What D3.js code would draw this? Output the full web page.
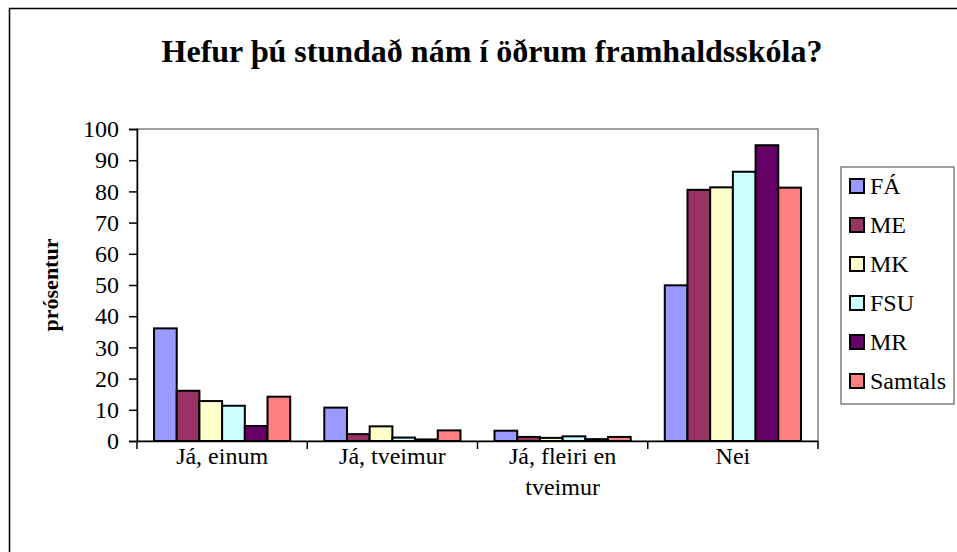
<!DOCTYPE html>
<html><head><meta charset="utf-8">
<script src="https://cdn.jsdelivr.net/npm/d3@7/dist/d3.min.js"></script>
<style>body{margin:0;background:#fff}svg{display:block}svg text{font-family:"Liberation Serif","Times New Roman",serif !important}</style>
</head><body><svg id="c" width="957" height="552"></svg>
<script>
const categories = [["Já, einum"], ["Já, tveimur"], ["Já, fleiri en", "tveimur"], ["Nei"]];
const seriesNames = ["FÁ", "ME", "MK", "FSU", "MR", "Samtals"];
const seriesColors = ["#9999FF", "#993366", "#FFFFCC", "#CCFFFF", "#660066", "#FF8080"];
const FA = [36.1, 10.7, 3.3, 49.9];
const ME = [16.1, 2.2, 1.3, 80.5];
const MK = [12.8, 4.7, 1.0, 81.3];
const FSU = [11.3, 1.1, 1.5, 86.3];
const MR = [4.8, 0.5, 0.6, 94.8];
const Samtals = [14.2, 3.4, 1.3, 81.2];
const yTicks = [0, 10, 20, 30, 40, 50, 60, 70, 80, 90, 100];
const title = "Hefur þú stundað nám í öðrum framhaldsskóla?";
const yLabel = "prósentur";

const values = [FA, ME, MK, FSU, MR, Samtals];
const svg = d3.select("#c");
const m = {l: 137, r: 818, t: 129, b: 441};

svg.append("rect").attr("x", 9.5).attr("y", 8.5).attr("width", 1000).attr("height", 1000)
  .attr("fill", "#fff").attr("stroke", "#000").attr("stroke-width", 1.5);

const x0 = d3.scaleBand().domain(d3.range(categories.length)).range([m.l, m.r]);
const x1 = d3.scaleBand().domain(d3.range(seriesNames.length))
  .range([0, x0.bandwidth()]).paddingOuter(0.75).paddingInner(0);
const y = d3.scaleLinear().domain([0, 100]).range([m.b, m.t]);

svg.append("rect").attr("x", m.l).attr("y", m.t).attr("width", m.r - m.l).attr("height", m.b - m.t)
  .attr("fill", "none").attr("stroke", "#808080").attr("stroke-width", 1.5);

values.forEach((vals, s) => {
  svg.append("g").selectAll("rect").data(vals).join("rect")
    .attr("x", (d, i) => x0(i) + x1(s))
    .attr("y", d => y(d))
    .attr("width", x1.bandwidth())
    .attr("height", d => y(0) - y(d))
    .attr("fill", seriesColors[s])
    .attr("stroke", "#000").attr("stroke-width", 2);
});

const ya = svg.append("g").attr("transform", `translate(${m.l},0)`)
  .call(d3.axisLeft(y).tickValues(yTicks).tickSize(8).tickPadding(10).tickFormat(d3.format("d")));
ya.attr("font-family", null).attr("font-size", null);
ya.select(".domain").attr("stroke", "#000").attr("stroke-width", 1.5);
ya.selectAll(".tick line").attr("stroke", "#000").attr("stroke-width", 1.5);
ya.selectAll(".tick text").style("font-size", "24px").attr("fill", "#000");

const xa = svg.append("g").attr("transform", `translate(0,${m.b})`)
  .call(d3.axisBottom(x0).tickSize(0).tickFormat(""));
xa.select(".domain").attr("stroke", "#000").attr("stroke-width", 1.5);
const tickPos = d3.range(categories.length + 1).map(i => m.l + i * x0.step());
svg.append("g").selectAll("line").data(tickPos).join("line")
  .attr("x1", d => d).attr("x2", d => d).attr("y1", m.b).attr("y2", m.b + 8)
  .attr("stroke", "#000").attr("stroke-width", 1.5);
svg.append("g").selectAll("text").data(categories).join("text")
  .style("font-size", "24px").attr("text-anchor", "middle")
  .attr("x", (d, i) => x0(i) + x0.bandwidth() / 2).attr("y", 464)
  .each(function(d) {
    d3.select(this).selectAll("tspan").data(d).join("tspan")
      .attr("x", d3.select(this).attr("x")).attr("dy", (t, j) => j ? 31 : 0).text(t => t);
  });

svg.append("text").attr("x", 492).attr("y", 62).attr("text-anchor", "middle")
  .style("font-size", "32px").attr("font-weight", "bold").text(title);

svg.append("text").attr("transform", "translate(58,285) rotate(-90)").attr("text-anchor", "middle")
  .style("font-size", "22px").attr("font-weight", "bold").text(yLabel);

const lg = svg.append("g");
lg.append("rect").attr("x", 841).attr("y", 167).attr("width", 113).attr("height", 237)
  .attr("fill", "#fff").attr("stroke", "#808080").attr("stroke-width", 1.5);
const ly = d3.scalePoint().domain(seriesNames).range([186, 381]);
seriesNames.forEach((n, i) => {
  lg.append("rect").attr("x", 850).attr("y", ly(n) - 7).attr("width", 14).attr("height", 14)
    .attr("fill", seriesColors[i]).attr("stroke", "#000").attr("stroke-width", 2);
  lg.append("text").attr("x", 870).attr("y", ly(n) + 8)
    .style("font-size", "24px").text(n);
});
</script></body></html>
